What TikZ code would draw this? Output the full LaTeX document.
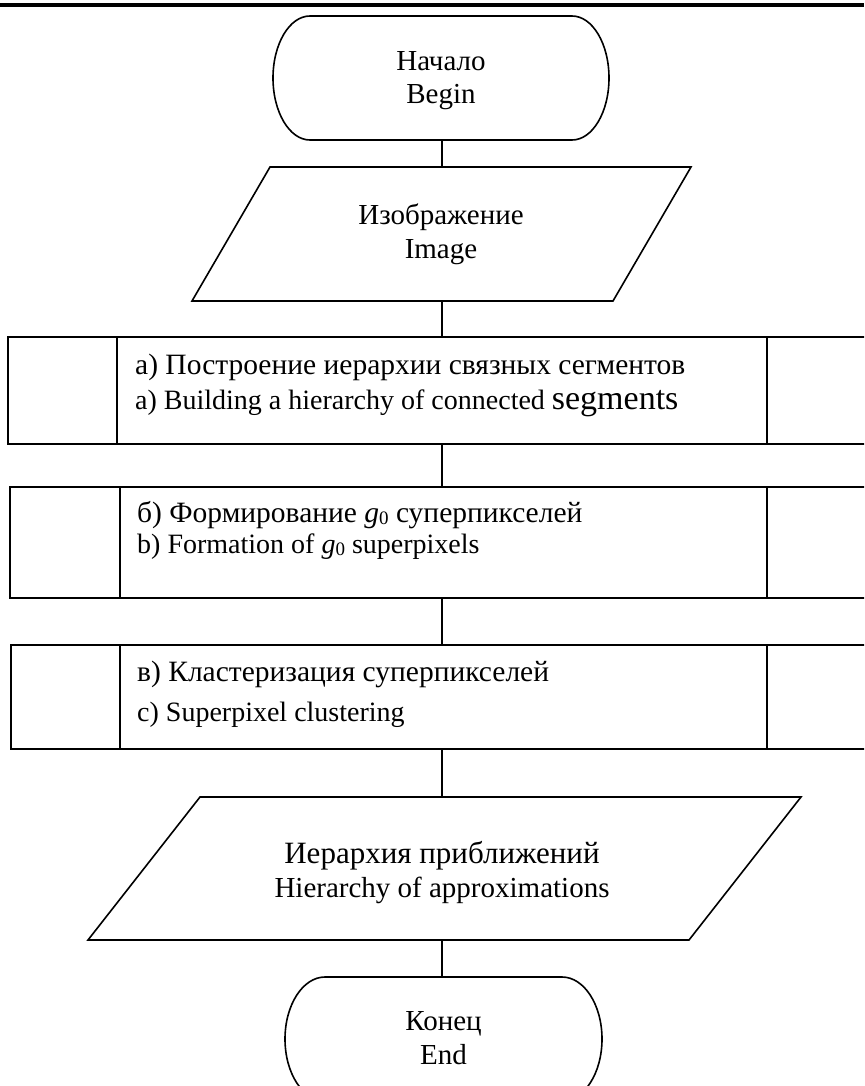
\documentclass[tikz,border=0pt]{standalone}
\usepackage{fontspec}
\setmainfont{Liberation Serif}
\newcommand{\gz}{{\itshape g}\raisebox{-0.22ex}{\fontsize{19}{19}\selectfont 0}}
\begin{document}
\begin{tikzpicture}[x=1pt,y=-1pt,
  shp/.style={draw=none, inner sep=0pt, outer sep=0pt, rectangle},
  procbox/.style={draw, line width=1.6pt, inner sep=0pt, outer sep=0pt, rectangle},
  outline/.style={draw, line width=1.6pt, line join=miter},
  conn/.style={draw, line width=1.5pt},
  lbl/.style={inner sep=0pt, anchor=base, font=\fontsize{29}{34}\selectfont},
  blbl/.style={inner sep=0pt, anchor=base west, font=\fontsize{29.5}{34}\selectfont},
  elbl/.style={inner sep=0pt, anchor=base west, font=\fontsize{28}{33}\selectfont}]
\useasboundingbox (0,0) rectangle (864,1086);
\clip (0,0) rectangle (864,1086);
% top rule
\draw[line width=3.4pt] (0,5) -- (864,5);
% shape holders
\node[shp, minimum width=336pt, minimum height=124pt] (begin) at (441,78) {};
\node[shp, minimum width=499pt, minimum height=134pt] (img) at (441.5,234) {};
\node[procbox, minimum width=862pt, minimum height=107pt] (boxa) at (439,390.5) {};
\node[procbox, minimum width=860pt, minimum height=111pt] (boxb) at (440,542.5) {};
\node[procbox, minimum width=859pt, minimum height=104pt] (boxc) at (440.5,697) {};
\node[shp, minimum width=713pt, minimum height=143pt] (hier) at (444.5,868.5) {};
\node[shp, minimum width=317pt, minimum height=124pt] (end) at (443.5,1039) {};
\coordinate (cx) at (442,0);
% terminators
\draw[outline] ([xshift=37pt]begin.north west) -- ([xshift=-37pt]begin.north east)
  arc[start angle=90, end angle=-90, x radius=37pt, y radius=62pt]
  -- ([xshift=37pt]begin.south west)
  arc[start angle=270, end angle=90, x radius=37pt, y radius=62pt] -- cycle;
\draw[outline] ([xshift=40pt]end.north west) -- ([xshift=-40pt]end.north east)
  arc[start angle=90, end angle=-90, x radius=40pt, y radius=62pt]
  -- ([xshift=40pt]end.south west)
  arc[start angle=270, end angle=90, x radius=40pt, y radius=62pt] -- cycle;
% parallelograms
\draw[outline] ([xshift=78pt]img.north west) -- (img.north east)
  -- ([xshift=-78pt]img.south east) -- (img.south west) -- cycle;
\draw[outline] ([xshift=112pt]hier.north west) -- (hier.north east)
  -- ([xshift=-112pt]hier.south east) -- (hier.south west) -- cycle;
% inner lines of predefined-process boxes
\draw[line width=1.6pt] ([xshift=109pt]boxa.north west) -- ([xshift=109pt]boxa.south west);
\draw[line width=1.6pt] ([xshift=759pt]boxa.north west) -- ([xshift=759pt]boxa.south west);
\draw[line width=1.6pt] ([xshift=110pt]boxb.north west) -- ([xshift=110pt]boxb.south west);
\draw[line width=1.6pt] ([xshift=757pt]boxb.north west) -- ([xshift=757pt]boxb.south west);
\draw[line width=1.6pt] ([xshift=109pt]boxc.north west) -- ([xshift=109pt]boxc.south west);
\draw[line width=1.6pt] ([xshift=756pt]boxc.north west) -- ([xshift=756pt]boxc.south west);
% connectors
\draw[conn] (cx |- begin.south) -- (cx |- img.north);
\draw[conn] (cx |- img.south) -- (cx |- boxa.north);
\draw[conn] (cx |- boxa.south) -- (cx |- boxb.north);
\draw[conn] (cx |- boxb.south) -- (cx |- boxc.north);
\draw[conn] (cx |- boxc.south) -- (cx |- hier.north);
\draw[conn] (cx |- hier.south) -- (cx |- end.north);
% texts
\node[lbl] (t1a) at (441,70.7) {Начало};
\node[lbl] (t1b) at (441,104) {Begin};
\node[lbl] (t2a) at (441,224) {Изображение};
\node[lbl] (t2b) at (441,258) {Image};
\node[blbl] (t3a) at (135,374) {а) Построение иерархии связных сегментов};
\node[elbl] (t3b) at (135,409) {a) Building a hierarchy of connected {\fontsize{34}{40}\selectfont segments}};
\node[blbl] (t4a) at (137,522) {б) Формирование \gz{} суперпикселей};
\node[elbl] (t4b) at (137,553) {b) Formation of \gz{} superpixels};
\node[blbl] (t5a) at (137,681) {в) Кластеризация суперпикселей};
\node[elbl] (t5b) at (137,721) {c) Superpixel clustering};
\node[lbl, font=\fontsize{31}{36}\selectfont] (t6a) at (442,863) {Иерархия приближений};
\node[lbl] (t6b) at (442,897) {Hierarchy of approximations};
\node[lbl] (t7a) at (443.5,1030) {Конец};
\node[lbl] (t7b) at (443.5,1064) {End};
\end{tikzpicture}
\end{document}
